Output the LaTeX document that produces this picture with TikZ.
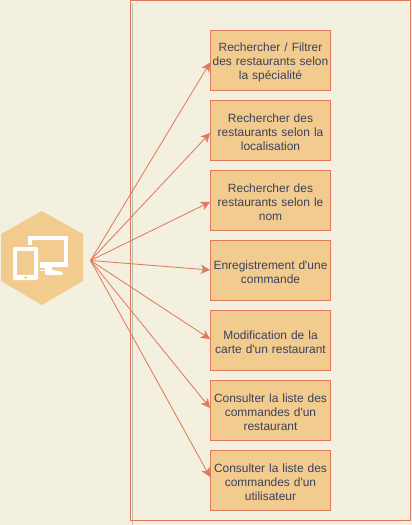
\documentclass[tikz,border=0pt]{standalone}
\usepackage{fontspec}
\setmainfont{Liberation Sans}
\usetikzlibrary{arrows.meta,positioning,calc,shapes.geometric}
\definecolor{pagebg}{HTML}{F4F0DF}
\definecolor{boxfill}{HTML}{F2CC8F}
\definecolor{boxline}{HTML}{E07A5F}
\definecolor{boxtext}{HTML}{3D405B}
\tikzset{
  taskbox/.style={rectangle, draw=boxline, fill=boxfill, line width=0.6pt, minimum width=3cm, minimum height=1.5cm,
    text width=3cm, inner sep=0pt, align=center, text=boxtext, font=\fontsize{8.5}{10}\selectfont,
    execute at begin node={\rule{0pt}{3.2mm}}},
  link/.style={draw=boxline, line width=0.6pt, -{Stealth[length=2.3mm,width=2.3mm,inset=0.6mm]}}
}
\begin{document}
\begin{tikzpicture}[x=0.025cm, y=-0.025cm]
  \useasboundingbox[fill=pagebg] (0,0) rectangle (412,525);
  % frame
  \draw[draw=black!20!pagebg, line width=0.45pt] (132.4,3) -- (132.4,525);
  \draw[draw=boxline, line width=0.6pt] (130.7,0.5) rectangle (410.7,520);
  % hexagon with devices
  \fill[boxfill] (41.7,211) -- (83,234) -- (83,281) -- (41.7,305) -- (1,281) -- (1,234) -- cycle;
  \fill[white] (27.7,236) rectangle (68.3,266.7);
  \fill[boxfill] (31.7,240) rectangle (64.3,262);
  \fill[white] (38,266) rectangle (52,271);
  \fill[boxfill] (39,267.5) rectangle (45,270);
  \fill[white, rounded corners=1pt] (45,270) -- (52,270) -- (63,272) -- (63,275) -- (45,275) -- cycle;
  \fill[boxfill] (11,245) rectangle (40,282);
  \fill[white, rounded corners=1pt] (13,247) rectangle (38,280);
  \fill[boxfill] (17.3,251) rectangle (34.3,275);
  \fill[boxfill] (25.7,277.5) circle [radius=1.5];
  % boxes
  \node[taskbox] (tsearch) at (270.5,60) {Rechercher / Filtrer\\ des restaurants selon\\ la spécialité};
  \node[taskbox] (tplace) at (270.5,130) {Rechercher des\\ restaurants selon la\\ localisation};
  \node[taskbox] (tname) at (270.5,200) {Rechercher des\\ restaurants selon le\\ nom};
  \node[taskbox] (torder) at (270.5,270) {Enregistrement d\textquotesingle une\\ commande};
  \node[taskbox] (tcard) at (270.5,340) {Modification de la\\ carte d\textquotesingle un restaurant};
  \node[taskbox] (tlistr) at (270.5,410) {Consulter la liste des\\ commandes d\textquotesingle un\\ restaurant};
  \node[taskbox] (tlistu) at (270.5,480) {Consulter la liste des\\ commandes d\textquotesingle un\\ utilisateur};
  % links
  \coordinate (hub) at (90.5,260.5);
  \foreach \t/\d in {tsearch/2.5,tplace/3,tname/2,torder/0,tcard/-1,tlistr/-2,tlistu/-3}
    \draw[link] (hub) -- ($(\t.west)+(0,\d)$);
\end{tikzpicture}
\end{document}
